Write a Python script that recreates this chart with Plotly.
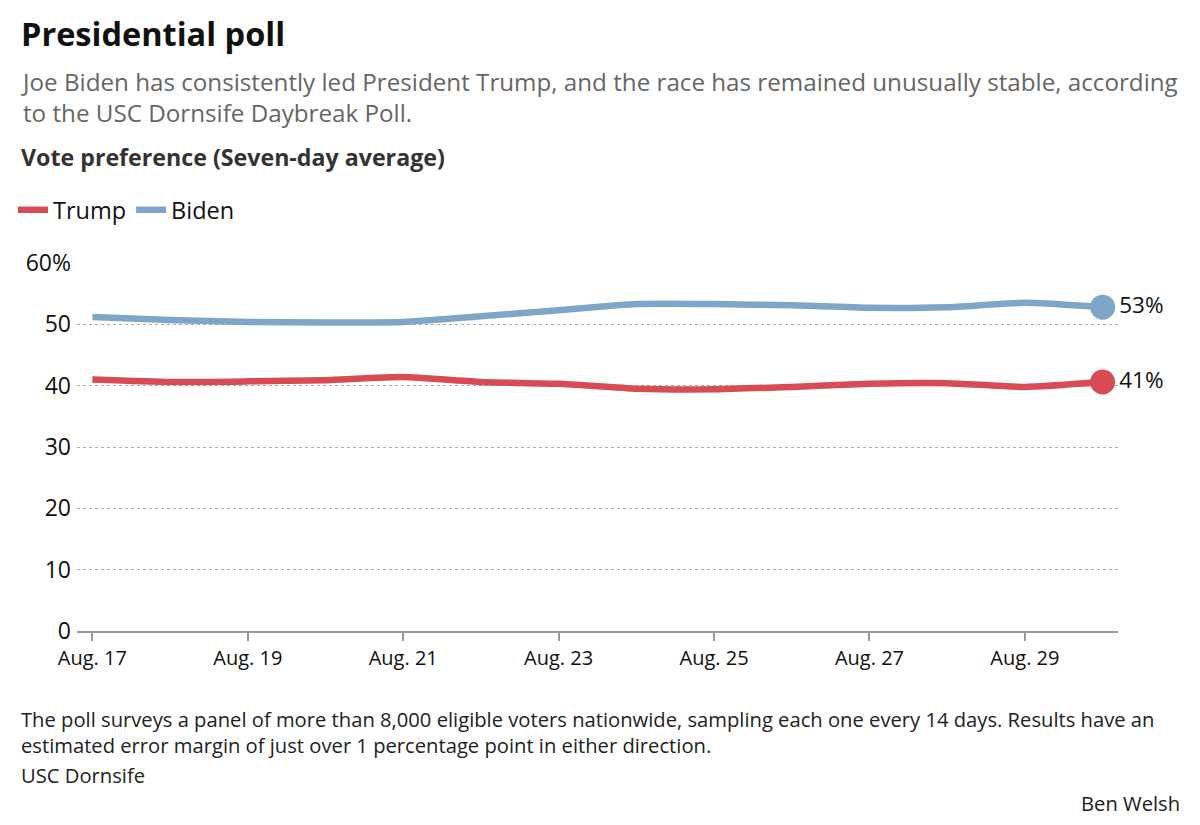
import plotly.graph_objects as go

# ---- data ----
dates = ["2020-08-17", "2020-08-18", "2020-08-19", "2020-08-20", "2020-08-21",
         "2020-08-22", "2020-08-23", "2020-08-24", "2020-08-25", "2020-08-26",
         "2020-08-27", "2020-08-28", "2020-08-29", "2020-08-30"]
biden = [51.2, 50.7, 50.4, 50.3, 50.4, 51.3, 52.3, 53.3, 53.3, 53.1, 52.7, 52.8, 53.5, 52.8]
trump = [41.0, 40.6, 40.7, 40.9, 41.4, 40.6, 40.3, 39.5, 39.4, 39.8, 40.3, 40.4, 39.8, 40.6]

x_tick_vals = ["2020-08-17", "2020-08-19", "2020-08-21", "2020-08-23",
               "2020-08-25", "2020-08-27", "2020-08-29"]
x_tick_text = ["Aug. 17", "Aug. 19", "Aug. 21", "Aug. 23", "Aug. 25", "Aug. 27", "Aug. 29"]
y_tick_vals = [0, 10, 20, 30, 40, 50, 60]
y_tick_text = ["0", "10", "20", "30", "40", "50", "60%"]

RED = "#d84b55"
BLUE = "#7ea6c8"
FONT = "Open Sans, Roboto, sans-serif"

W, H = 1200, 825
ML, MR, MT, MB = 77, 82, 263, 194
PW = W - ML - MR
PH = H - MT - MB


def px(x):
    return (x - ML) / PW


def py(y):
    return (H - MB - y) / PH


fig = go.Figure()
fig.add_trace(go.Scatter(x=dates, y=trump, mode="lines", name="Trump",
                         line=dict(color=RED, width=6.5, shape="spline", smoothing=0.5)))
fig.add_trace(go.Scatter(x=dates, y=biden, mode="lines", name="Biden",
                         line=dict(color=BLUE, width=6.5, shape="spline", smoothing=0.5)))

for vals, col in ((biden, BLUE), (trump, RED)):
    fig.add_trace(go.Scatter(
        x=[dates[-1]], y=[vals[-1]], mode="markers+text",
        marker=dict(size=25, color=col),
        text=[f"{round(vals[-1])}%"], textposition="middle right",
        textfont=dict(family=FONT, size=22.5, color="#111"),
        showlegend=False, cliponaxis=False, hoverinfo="skip"))

annotations = [
    dict(text="<b>Presidential poll</b>", x=px(19), y=py(33), xanchor="left", yanchor="middle",
         font=dict(family=FONT, size=32.5, color="#111")),
    dict(text="Joe Biden has consistently led President Trump, and the race has remained unusually stable, according"
              "<br>to the USC Dornsife Daybreak Poll.",
         x=px(19), y=py(97), xanchor="left", yanchor="middle", align="left",
         font=dict(family=FONT, size=24.2, color="#666")),
    dict(text="<b>Vote preference (Seven-day average)</b>", x=px(19), y=py(157), xanchor="left",
         yanchor="middle", font=dict(family=FONT, size=23.2, color="#333")),
    dict(text="The poll surveys a panel of more than 8,000 eligible voters nationwide, sampling each one every 14 days. Results have an"
              "<br>estimated error margin of just over 1 percentage point in either direction.",
         x=px(19), y=py(732), xanchor="left", yanchor="middle", align="left",
         font=dict(family=FONT, size=20.2, color="#222")),
    dict(text="USC Dornsife", x=px(19), y=py(775), xanchor="left", yanchor="middle",
         font=dict(family=FONT, size=20.2, color="#222")),
    dict(text="Ben Welsh", x=px(1182), y=py(803), xanchor="right", yanchor="middle",
         font=dict(family=FONT, size=20.2, color="#222")),
]
for a in annotations:
    a.update(xref="paper", yref="paper", showarrow=False)

fig.update_layout(
    width=W, height=H,
    margin=dict(l=ML, r=MR, t=MT, b=MB),
    paper_bgcolor="white", plot_bgcolor="white",
    font=dict(family=FONT, color="#111"),
    showlegend=True,
    legend=dict(orientation="h", xref="container", yref="container",
                x=13 / W, y=1 - 210 / H, xanchor="left", yanchor="middle",
                font=dict(family=FONT, size=23.5, color="#111"),
                itemwidth=30, tracegroupgap=0, bgcolor="rgba(0,0,0,0)"),
    annotations=annotations,
    xaxis=dict(type="date", range=["2020-08-16 19:15", "2020-08-30 04:45"],
               tickvals=x_tick_vals, ticktext=x_tick_text,
               showgrid=False, zeroline=False,
               showline=True, linecolor="#999", linewidth=1.5,
               ticks="outside", ticklen=8, tickcolor="#999", tickwidth=1.5,
               tickfont=dict(family=FONT, size=20, color="#111")),
    yaxis=dict(range=[0, 60], tickvals=y_tick_vals, ticktext=y_tick_text,
               showgrid=True, gridcolor="#aaa", gridwidth=1, griddash="dot",
               zeroline=False, showline=False, ticks="", ticklabelstandoff=5,
               tickfont=dict(family=FONT, size=23, color="#111")),
)

fig.write_html("out.html", config={"displayModeBar": False})

# remove the browser's default body margin so the figure sits at the page origin
with open("out.html", "r", encoding="utf-8") as f:
    html = f.read()
html = html.replace("<head>", "<head><style>html,body{margin:0;padding:0;overflow:hidden;}</style>", 1)
with open("out.html", "w", encoding="utf-8") as f:
    f.write(html)
